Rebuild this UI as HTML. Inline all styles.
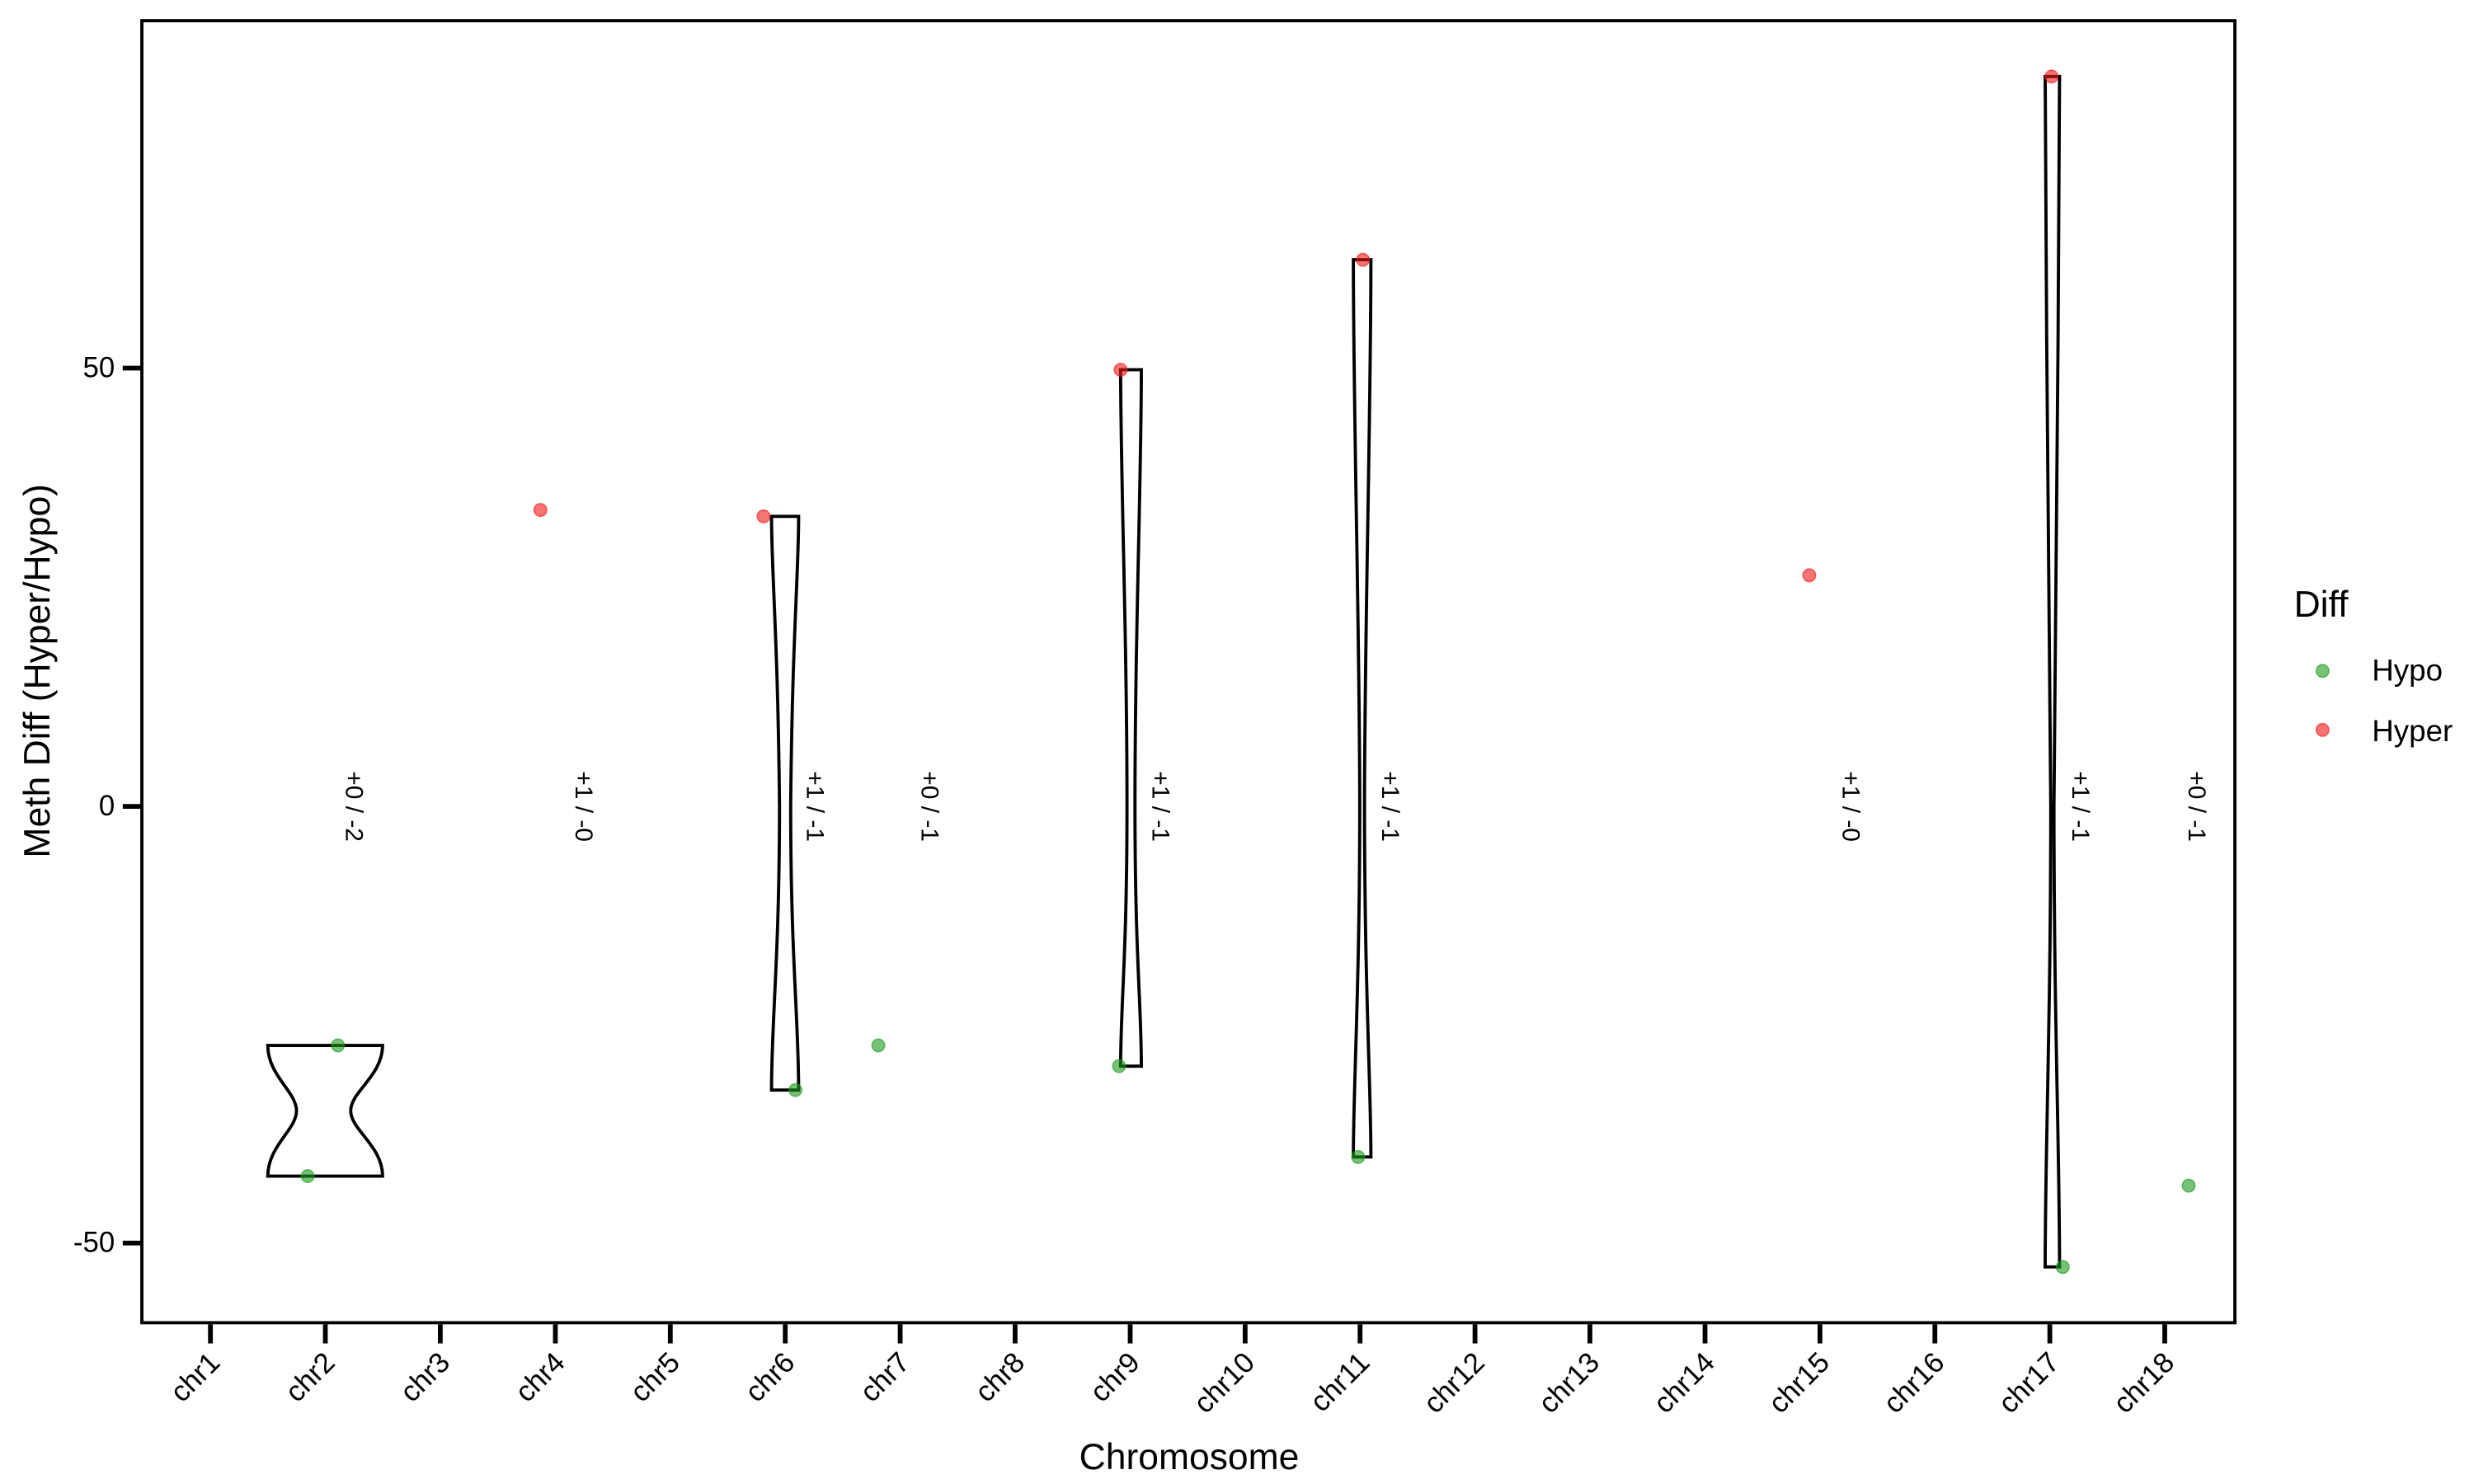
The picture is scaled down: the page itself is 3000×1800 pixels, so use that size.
<!DOCTYPE html>
<html><head><meta charset="utf-8"><style>html,body{margin:0;padding:0;background:#fff}svg{display:block}</style></head>
<body>
<svg width="3000" height="1800" viewBox="0 0 1552 931.2" xmlns="http://www.w3.org/2000/svg" font-family="Liberation Sans, sans-serif">
<rect x="0" y="0" width="1552" height="931.2" fill="#fff"/>
<g fill="none" stroke="#000" stroke-width="2">
<path d="M168,656 L240,656 C240,675 220,685 220,697 C220,709 240,719 240,738 L168,738 C168,719 186,709 186,697 C186,685 168,675 168,656 Z"/>
<path d="M484,324 L501,324 C501,360 497,400 496,506 C496,600 501,640 501,684 L484,684 C484,640 489,600 489,506 C488,400 484,360 484,324 Z"/>
<path d="M703,232 L716,232 C716,300 712,400 712,506 C712,600 716,630 716,669 L703,669 C703,630 707,600 707,506 C707,400 703,300 703,232 Z"/>
<path d="M849,163 L860,163 C860,260 856,400 856,506 C856,620 860,680 860,726 L849,726 C849,680 853,620 853,506 C853,400 849,260 849,163 Z"/>
<path d="M1283,48 L1292,48 C1292,200 1288.5,400 1288.5,506 C1288.5,640 1292,720 1292,795 L1283,795 C1283,720 1286.5,640 1286.5,506 C1286.5,400 1283,200 1283,48 Z"/>
</g>
<g fill="#1a9a1a" fill-opacity="0.6" stroke="#1a9a1a" stroke-opacity="0.6" stroke-width="0.8">
<circle cx="212" cy="656" r="4"/><circle cx="193" cy="738" r="4"/><circle cx="499" cy="684" r="4"/><circle cx="551" cy="656" r="4"/><circle cx="702" cy="669" r="4"/><circle cx="852" cy="726" r="4"/><circle cx="1294" cy="795" r="4"/><circle cx="1373" cy="744" r="4"/>
</g>
<g fill="#f01818" fill-opacity="0.6" stroke="#f01818" stroke-opacity="0.6" stroke-width="0.8">
<circle cx="339" cy="320" r="4"/><circle cx="479" cy="324" r="4"/><circle cx="703" cy="232" r="4"/><circle cx="855" cy="163" r="4"/><circle cx="1135" cy="361" r="4"/><circle cx="1287" cy="48" r="4"/>
</g>
<g font-size="15.5" fill="#000" dominant-baseline="central">
<text transform="translate(222,506) rotate(90)" text-anchor="middle">+0 / -2</text>
<text transform="translate(366,506) rotate(90)" text-anchor="middle">+1 / -0</text>
<text transform="translate(511,506) rotate(90)" text-anchor="middle">+1 / -1</text>
<text transform="translate(583,506) rotate(90)" text-anchor="middle">+0 / -1</text>
<text transform="translate(728,506) rotate(90)" text-anchor="middle">+1 / -1</text>
<text transform="translate(872,506) rotate(90)" text-anchor="middle">+1 / -1</text>
<text transform="translate(1161,506) rotate(90)" text-anchor="middle">+1 / -0</text>
<text transform="translate(1305,506) rotate(90)" text-anchor="middle">+1 / -1</text>
<text transform="translate(1378,506) rotate(90)" text-anchor="middle">+0 / -1</text>
</g>
<rect x="89" y="13" width="1313" height="817" fill="none" stroke="#000" stroke-width="2"/>
<g stroke="#000" stroke-width="3">
<line x1="77" y1="231" x2="89" y2="231"/><line x1="77" y1="506" x2="89" y2="506"/><line x1="77" y1="780" x2="89" y2="780"/>
</g>
<g font-size="18" fill="#000" text-anchor="end" dominant-baseline="central">
<text x="72" y="231">50</text><text x="72" y="506">0</text><text x="72" y="780">-50</text>
</g>
<g font-size="18" fill="#000" text-anchor="end">
<line x1="132" y1="831" x2="132" y2="843" stroke="#000" stroke-width="3"/><text transform="translate(139,856) rotate(-45)">chr1</text>
<line x1="204.1" y1="831" x2="204.1" y2="843" stroke="#000" stroke-width="3"/><text transform="translate(211.1,856) rotate(-45)">chr2</text>
<line x1="276.2" y1="831" x2="276.2" y2="843" stroke="#000" stroke-width="3"/><text transform="translate(283.2,856) rotate(-45)">chr3</text>
<line x1="348.4" y1="831" x2="348.4" y2="843" stroke="#000" stroke-width="3"/><text transform="translate(355.4,856) rotate(-45)">chr4</text>
<line x1="420.5" y1="831" x2="420.5" y2="843" stroke="#000" stroke-width="3"/><text transform="translate(427.5,856) rotate(-45)">chr5</text>
<line x1="492.6" y1="831" x2="492.6" y2="843" stroke="#000" stroke-width="3"/><text transform="translate(499.6,856) rotate(-45)">chr6</text>
<line x1="564.7" y1="831" x2="564.7" y2="843" stroke="#000" stroke-width="3"/><text transform="translate(571.7,856) rotate(-45)">chr7</text>
<line x1="636.8" y1="831" x2="636.8" y2="843" stroke="#000" stroke-width="3"/><text transform="translate(643.8,856) rotate(-45)">chr8</text>
<line x1="709" y1="831" x2="709" y2="843" stroke="#000" stroke-width="3"/><text transform="translate(716,856) rotate(-45)">chr9</text>
<line x1="781.1" y1="831" x2="781.1" y2="843" stroke="#000" stroke-width="3"/><text transform="translate(788.1,856) rotate(-45)">chr10</text>
<line x1="853.2" y1="831" x2="853.2" y2="843" stroke="#000" stroke-width="3"/><text transform="translate(860.2,856) rotate(-45)">chr11</text>
<line x1="925.3" y1="831" x2="925.3" y2="843" stroke="#000" stroke-width="3"/><text transform="translate(932.3,856) rotate(-45)">chr12</text>
<line x1="997.4" y1="831" x2="997.4" y2="843" stroke="#000" stroke-width="3"/><text transform="translate(1004.4,856) rotate(-45)">chr13</text>
<line x1="1069.6" y1="831" x2="1069.6" y2="843" stroke="#000" stroke-width="3"/><text transform="translate(1076.6,856) rotate(-45)">chr14</text>
<line x1="1141.7" y1="831" x2="1141.7" y2="843" stroke="#000" stroke-width="3"/><text transform="translate(1148.7,856) rotate(-45)">chr15</text>
<line x1="1213.8" y1="831" x2="1213.8" y2="843" stroke="#000" stroke-width="3"/><text transform="translate(1220.8,856) rotate(-45)">chr16</text>
<line x1="1285.9" y1="831" x2="1285.9" y2="843" stroke="#000" stroke-width="3"/><text transform="translate(1292.9,856) rotate(-45)">chr17</text>
<line x1="1358" y1="831" x2="1358" y2="843" stroke="#000" stroke-width="3"/><text transform="translate(1365,856) rotate(-45)">chr18</text>
</g>
<text x="746" y="922" font-size="23" text-anchor="middle" fill="#000">Chromosome</text>
<text transform="translate(31,421) rotate(-90)" font-size="23" text-anchor="middle" fill="#000">Meth Diff (Hyper/Hypo)</text>
<text x="1439" y="387" font-size="23" fill="#000">Diff</text>
<circle cx="1457" cy="421" r="4" fill="#1a9a1a" fill-opacity="0.6" stroke="#1a9a1a" stroke-opacity="0.6" stroke-width="0.8"/>
<circle cx="1457" cy="458" r="4" fill="#f01818" fill-opacity="0.6" stroke="#f01818" stroke-opacity="0.6" stroke-width="0.8"/>
<text x="1488" y="427" font-size="19" fill="#000">Hypo</text>
<text x="1488" y="465" font-size="19" fill="#000">Hyper</text>
</svg>
</body></html>
